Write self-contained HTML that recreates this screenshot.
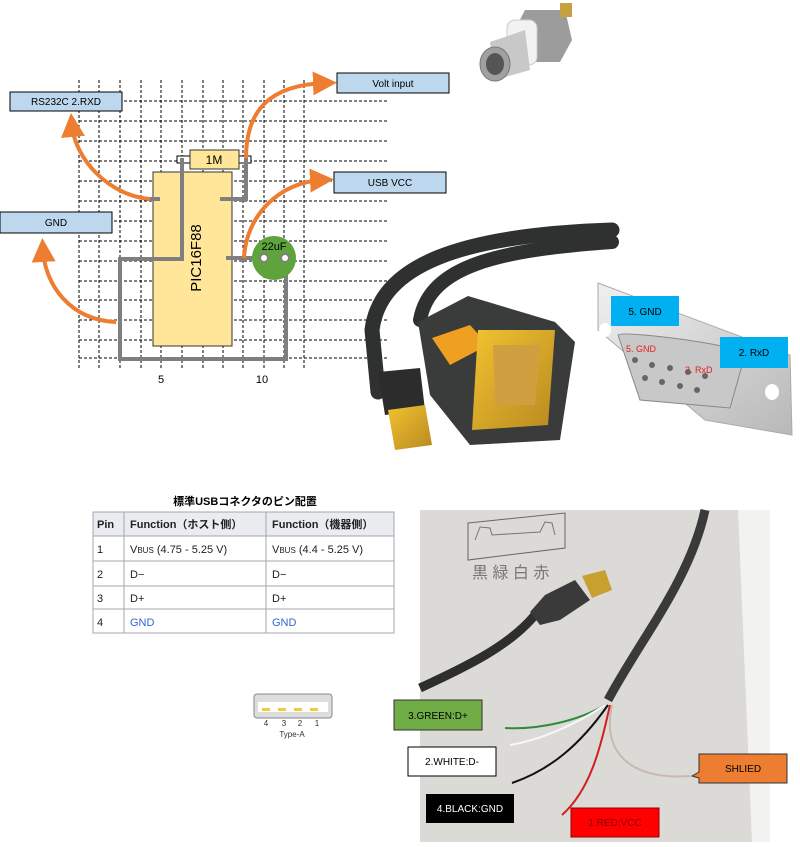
<!DOCTYPE html>
<html><head><meta charset="utf-8"><style>
body{margin:0;background:#fff}
svg{display:block}
text{font-family:"Liberation Sans","Noto Sans CJK JP",sans-serif}
</style></head><body>
<svg width="800" height="847" viewBox="0 0 800 847" xmlns="http://www.w3.org/2000/svg">
<defs>
<marker id="ar" markerWidth="6" markerHeight="6" refX="3" refY="3" orient="auto" markerUnits="strokeWidth"><path d="M0,0 L6,3 L0,6 z" fill="#ed7d31"/></marker>
<linearGradient id="db" x1="0" y1="0" x2="1" y2="1"><stop offset="0" stop-color="#f0f0f0"/><stop offset="1" stop-color="#b8b8b8"/></linearGradient>
<linearGradient id="gold" x1="0" y1="0" x2="1" y2="1"><stop offset="0" stop-color="#f2c230"/><stop offset="1" stop-color="#b88a20"/></linearGradient>
</defs>
<!-- grid -->
<g stroke="#000" stroke-width="1" stroke-dasharray="3,2">
<line x1="79" y1="80" x2="79" y2="370"/><line x1="99" y1="80" x2="99" y2="370"/><line x1="120" y1="80" x2="120" y2="370"/><line x1="141" y1="80" x2="141" y2="370"/><line x1="161" y1="80" x2="161" y2="370"/><line x1="182" y1="80" x2="182" y2="370"/><line x1="203" y1="80" x2="203" y2="370"/><line x1="223" y1="80" x2="223" y2="370"/><line x1="243" y1="80" x2="243" y2="370"/><line x1="264" y1="80" x2="264" y2="370"/><line x1="284" y1="80" x2="284" y2="370"/><line x1="304" y1="80" x2="304" y2="370"/>
<line x1="79" y1="101" x2="388" y2="101"/><line x1="79" y1="121" x2="388" y2="121"/><line x1="79" y1="141" x2="388" y2="141"/><line x1="79" y1="161" x2="388" y2="161"/><line x1="79" y1="181" x2="388" y2="181"/><line x1="79" y1="201" x2="388" y2="201"/><line x1="79" y1="221" x2="388" y2="221"/><line x1="79" y1="241" x2="388" y2="241"/><line x1="79" y1="261" x2="388" y2="261"/><line x1="79" y1="281" x2="388" y2="281"/><line x1="79" y1="300" x2="388" y2="300"/><line x1="79" y1="320" x2="388" y2="320"/><line x1="79" y1="340" x2="388" y2="340"/><line x1="79" y1="358" x2="388" y2="358"/>
</g>
<text x="161" y="383" font-size="11" text-anchor="middle">5</text>
<text x="262" y="383" font-size="11" text-anchor="middle">10</text>
<!-- chip -->
<rect x="153" y="172" width="79" height="174" fill="#ffe699" stroke="#333" stroke-width="1"/>
<text transform="translate(197,258) rotate(-90)" font-size="15" text-anchor="middle" dominant-baseline="middle">PIC16F88</text>
<rect x="177" y="156" width="74" height="7" fill="#fff" stroke="#000"/>
<rect x="190" y="150" width="49" height="19" fill="#ffe699" stroke="#333"/>
<text x="214" y="164" font-size="12" text-anchor="middle">1M</text>
<!-- wires -->
<g stroke="#7f7f7f" stroke-width="4" fill="none">
<polyline points="182,158 182,259 120,259 120,359 286,359 286,262"/>
<polyline points="246,158 246,199 220,199"/>
<line x1="147" y1="199" x2="160" y2="199"/>
<line x1="226" y1="258" x2="262" y2="258"/>
</g>
<circle cx="274" cy="258" r="22" fill="#5ea33c"/>
<text x="274" y="250" font-size="11" text-anchor="middle">22uF</text>
<circle cx="264" cy="258" r="4" fill="#fff" stroke="#7f7f7f" stroke-width="2"/>
<circle cx="285" cy="258" r="4" fill="#fff" stroke="#7f7f7f" stroke-width="2"/>
<!-- orange arrows -->
<g stroke="#ed7d31" stroke-width="4" fill="none">
<path d="M150,199 C110,196 75,160 72,125" marker-end="url(#ar)"/>
<path d="M246,158 C246,110 270,85 325,83" marker-end="url(#ar)"/>
<path d="M244,258 C246,215 280,182 322,180" marker-end="url(#ar)"/>
<path d="M116,322 C70,320 45,285 43,250" marker-end="url(#ar)"/>
</g>
<!-- labels -->
<g stroke="#000" stroke-width="1" fill="#bdd7ee">
<rect x="10" y="92" width="112" height="19"/><rect x="337" y="73" width="112" height="20"/><rect x="334" y="172" width="112" height="21"/><rect x="0" y="212" width="112" height="21"/>
</g>
<g font-size="10" text-anchor="middle">
<text x="66" y="105">RS232C 2.RXD</text><text x="393" y="87">Volt input</text><text x="390" y="186">USB VCC</text><text x="56" y="226">GND</text>
</g>
<!-- BNC -->
<g>
<path d="M525,10 L565,10 L572,40 L560,62 L520,62 L512,35z" fill="#9c9c9c"/>
<rect x="507" y="20" width="30" height="45" rx="8" fill="#f2f2f2" stroke="#ccc"/>
<path d="M490,42 L525,30 L530,70 L495,80z" fill="#c8c8c8"/>
<ellipse cx="495" cy="64" rx="15" ry="17" fill="#a0a0a0" stroke="#777"/>
<ellipse cx="495" cy="64" rx="9" ry="11" fill="#555"/>
<rect x="560" y="3" width="12" height="14" fill="#c8a040"/>
</g>
<!-- serial cable -->
<g fill="none" stroke="#2f3030" stroke-linecap="round">
<path d="M612,230 C460,235 380,265 372,330 L378,392" stroke-width="15"/>
<path d="M612,242 C500,250 430,265 420,320" stroke-width="14"/>
</g>
<path d="M378,372 L420,368 L425,410 L385,415z" fill="#2c2c2c"/>
<path d="M388,410 L425,405 L432,445 L395,450z" fill="url(#gold)"/>
<path d="M418,322 L468,296 L555,322 L575,342 L560,440 L470,445 L430,395z" fill="#3a3b3b"/>
<path d="M432,338 L470,325 L488,345 L450,365z" fill="#f0a020"/>
<path d="M478,330 L555,330 L548,425 L472,430z" fill="url(#gold)"/>
<path d="M493,345 L540,345 L535,405 L495,405z" fill="#d0a040"/>
<!-- DB9 -->
<path d="M598,283 L790,355 L792,435 L705,420 L598,330z" fill="url(#db)" stroke="#aaa"/>
<ellipse cx="605" cy="330" rx="6" ry="7" fill="#fff"/>
<ellipse cx="772" cy="392" rx="7" ry="8" fill="#fff"/>
<path d="M618,335 C620,330 745,345 745,355 L730,408 L640,400z" fill="#c8c8c8" stroke="#888"/>
<g fill="#666"><circle cx="635" cy="360" r="3"/><circle cx="652" cy="365" r="3"/><circle cx="670" cy="368" r="3"/><circle cx="688" cy="372" r="3"/><circle cx="705" cy="376" r="3"/><circle cx="645" cy="378" r="3"/><circle cx="662" cy="382" r="3"/><circle cx="680" cy="386" r="3"/><circle cx="697" cy="390" r="3"/></g>
<rect x="611" y="296" width="68" height="30" fill="#00b0f0"/><text x="645" y="315" font-size="10" text-anchor="middle">5. GND</text>
<rect x="720" y="337" width="68" height="31" fill="#00b0f0"/><text x="754" y="356" font-size="10" text-anchor="middle">2. RxD</text>
<text x="626" y="352" font-size="9" fill="#e02020">5. GND</text>
<text x="685" y="373" font-size="9" fill="#e02020">2. RxD</text>
<!-- USB table -->
<text x="245" y="505" font-size="11" font-weight="bold" text-anchor="middle">標準USBコネクタのピン配置</text>
<g stroke="#a2a9b1" stroke-width="1">
<rect x="93" y="512" width="301" height="121" fill="#fff"/>
<rect x="93" y="512" width="301" height="24" fill="#eaecf0"/>
<line x1="93" y1="536" x2="394" y2="536"/><line x1="93" y1="561" x2="394" y2="561"/><line x1="93" y1="586" x2="394" y2="586"/><line x1="93" y1="609" x2="394" y2="609"/>
<line x1="124" y1="512" x2="124" y2="633"/><line x1="266" y1="512" x2="266" y2="633"/>
</g>
<g font-size="11" fill="#202122">
<text x="97" y="528" font-weight="bold">Pin</text><text x="130" y="528" font-weight="bold">Function（ホスト側）</text><text x="272" y="528" font-weight="bold">Function（機器側）</text>
<text x="97" y="553">1</text><text x="130" y="553">V<tspan font-size="8">BUS</tspan> (4.75 - 5.25 V)</text><text x="272" y="553">V<tspan font-size="8">BUS</tspan> (4.4 - 5.25 V)</text>
<text x="97" y="578">2</text><text x="130" y="578">D−</text><text x="272" y="578">D−</text>
<text x="97" y="602">3</text><text x="130" y="602">D+</text><text x="272" y="602">D+</text>
<text x="97" y="626">4</text><text x="130" y="626" fill="#3366cc">GND</text><text x="272" y="626" fill="#3366cc">GND</text>
</g>
<!-- Type-A -->
<rect x="254" y="694" width="78" height="24" rx="3" fill="#ddd" stroke="#888"/>
<rect x="258" y="702" width="70" height="10" fill="#fff"/>
<g fill="#e8d040"><rect x="262" y="708" width="8" height="3"/><rect x="278" y="708" width="8" height="3"/><rect x="294" y="708" width="8" height="3"/><rect x="310" y="708" width="8" height="3"/></g>
<g font-size="8" fill="#333" text-anchor="middle"><text x="266" y="726">4</text><text x="284" y="726">3</text><text x="300" y="726">2</text><text x="317" y="726">1</text><text x="292" y="737">Type-A</text></g>
<!-- photo -->
<rect x="420" y="510" width="350" height="332" fill="#dcdad6"/>
<path d="M738,510 L770,510 L770,842 L752,842z" fill="#f2f2f0"/>
<path d="M420,688 C470,665 510,645 535,615" stroke="#2e2e2e" stroke-width="9" fill="none"/>
<path d="M530,612 L545,595 L575,580 L590,600 L560,620 L540,625z" fill="#3a3a3a"/>
<path d="M582,576 L605,570 L612,590 L592,598z" fill="#c8a030"/>
<path d="M705,510 C690,580 640,640 608,700" stroke="#3a3a3a" stroke-width="9" fill="none"/>
<g fill="none" stroke-width="2">
<path d="M605,705 C580,720 540,730 505,728" stroke="#2e8a3e"/>
<path d="M605,705 C575,725 540,740 510,745" stroke="#f8f8f8"/>
<path d="M608,705 C580,745 550,770 512,783" stroke="#111"/>
<path d="M610,705 C600,750 590,790 562,815" stroke="#d02020"/>
<path d="M612,705 C600,760 640,780 690,776" stroke="#c8b8b0"/>
</g>
<path d="M468,523 L565,513 L565,548 L468,560z" fill="none" stroke="#666"/>
<path d="M475,540 L480,527 L490,528 L492,535 L540,532 L545,522 L552,523 L555,535" fill="none" stroke="#777"/>
<text x="472" y="578" font-size="16" fill="#777">黒 緑 白 赤</text>
<!-- photo labels -->
<rect x="394" y="700" width="88" height="30" fill="#70ad47" stroke="#333"/><text x="438" y="719" font-size="10" text-anchor="middle">3.GREEN:D+</text>
<rect x="408" y="747" width="88" height="29" fill="#fff" stroke="#000"/><text x="452" y="765" font-size="10" text-anchor="middle">2.WHITE:D-</text>
<rect x="426" y="794" width="88" height="29" fill="#000"/><text x="470" y="812" font-size="10" fill="#fff" text-anchor="middle">4.BLACK:GND</text>
<rect x="571" y="808" width="88" height="29" fill="#ff0000" stroke="#900"/><text x="615" y="826" font-size="10" fill="#800" text-anchor="middle">1.RED:VCC</text>
<path d="M699,754 L787,754 L787,783 L699,783 L699,778 L692,776 L699,772z" fill="#ed7d31" stroke="#333"/><text x="743" y="772" font-size="10" text-anchor="middle">SHLIED</text>
</svg>
</body></html>
